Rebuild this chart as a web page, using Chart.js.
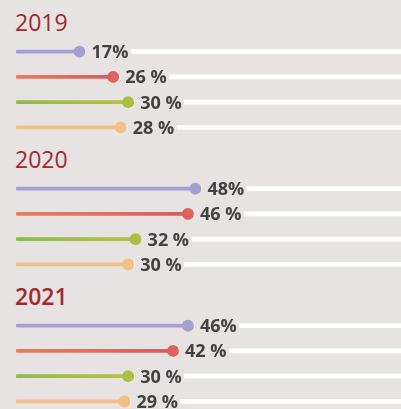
<!DOCTYPE html>
<html lang="en">
<head>
  <meta charset="UTF-8" />
  <title>Lollipop by year</title>
  <script src="https://cdn.jsdelivr.net/npm/chart.js"></script>
  <style>
    body {
      background-color: #e7e3e2;
      margin: 0;
      padding: 10px 0 0 0;
      width: 401px;
      height: 409px;
      overflow: hidden;
      font-family: 'Open Sans', sans-serif;
    }

    .group {
      margin-bottom: 7px;
    }

    .year-title {
      font-size: 23px;
      line-height: 24px;
      color: #a3292f;
      padding-left: 15px;
      margin-bottom: 5px;
    }

    .year-title.bold {
      font-weight: 600;
    }

    .chart-box {
      position: relative;
      width: 401px;
      height: 101px;
    }
  </style>
</head>
<body>
  <div id="groups"></div>

  <script>
    // data
    const years = ['2019', '2020', '2021'];
    const rows = ['A', 'B', 'C', 'D'];
    const values2019 = [17, 26, 30, 28];
    const values2020 = [48, 46, 32, 30];
    const values2021 = [46, 42, 30, 29];
    const labels2019 = ['17%', '26 %', '30 %', '28 %'];
    const labels2020 = ['48%', '46 %', '32 %', '30 %'];
    const labels2021 = ['46%', '42 %', '30 %', '29 %'];

    const allValues = [values2019, values2020, values2021];
    const allLabels = [labels2019, labels2020, labels2021];

    const BG = '#e7e3e2';
    const X_MAX = 103;
    // start/end colours of each line, and dot colour
    const lineFrom = ['#a5a0cf', '#e97d5d', '#8dbc4a', '#f1c184'];
    const lineTo = ['#a5a0cf', '#d95b62', '#b9c043', '#f1c184'];
    const dotColors = ['#a5a0cf', '#e0625f', '#abbf45', '#f1c184'];

    // draws the value text after each dot, with a patch of background behind it
    const valueLabels = {
      id: 'valueLabels',
      afterDatasetsDraw(chart, args, opts) {
        const ctx = chart.ctx;
        const meta = chart.getDatasetMeta(2);
        ctx.save();
        ctx.font = 'bold 18px "Open Sans"';
        ctx.textBaseline = 'alphabetic';
        meta.data.forEach((pt, i) => {
          const text = opts.texts[i];
          const w = ctx.measureText(text).width;
          ctx.fillStyle = BG;
          ctx.fillRect(pt.x + 6.5, pt.y - 4, w + 8, 8);
          ctx.fillStyle = '#424242';
          ctx.fillText(text, pt.x + 12, pt.y + 6.5);
        });
        ctx.restore();
      }
    };

    function gradientFor(c) {
      const chart = c.chart;
      const area = chart.chartArea;
      const i = c.dataIndex;
      if (!area || lineFrom[i] === lineTo[i]) return lineFrom[i];
      const end = chart.scales.x.getPixelForValue(c.raw);
      const g = chart.ctx.createLinearGradient(area.left, 0, end, 0);
      g.addColorStop(0, lineFrom[i]);
      g.addColorStop(1, lineTo[i]);
      return g;
    }

    const holder = document.getElementById('groups');

    years.forEach((year, k) => {
      const group = document.createElement('div');
      group.className = 'group';
      group.innerHTML =
        `<div class="year-title${k === 2 ? ' bold' : ''}">${year}</div>` +
        `<div class="chart-box"><canvas></canvas></div>`;
      holder.appendChild(group);

      const values = allValues[k];
      new Chart(group.querySelector('canvas'), {
        type: 'bar',
        data: {
          labels: rows,
          datasets: [
            {
              // white track from the dot to the right edge
              data: values.map(v => [v, X_MAX]),
              backgroundColor: '#ffffff',
              barThickness: 4,
              grouped: false,
              order: 3
            },
            {
              data: values,
              backgroundColor: gradientFor,
              barThickness: 3,
              borderRadius: 2,
              borderSkipped: false,
              grouped: false,
              order: 2
            },
            {
              type: 'line',
              indexAxis: 'y',
              data: values,
              showLine: false,
              pointRadius: 6,
              pointBorderWidth: 0,
              pointBackgroundColor: dotColors,
              clip: false,
              order: 1
            }
          ]
        },
        options: {
          indexAxis: 'y',
          responsive: true,
          maintainAspectRatio: false,
          animation: false,
          events: [],
          layout: { autoPadding: false, padding: { left: 16, right: 0, top: 0, bottom: 0 } },
          plugins: {
            legend: { display: false },
            tooltip: { enabled: false },
            valueLabels: { texts: allLabels[k] }
          },
          scales: {
            x: { display: false, min: 0, max: X_MAX },
            y: { display: false, offset: true }
          }
        },
        plugins: [valueLabels]
      });
    });
  </script>
</body>
</html>
